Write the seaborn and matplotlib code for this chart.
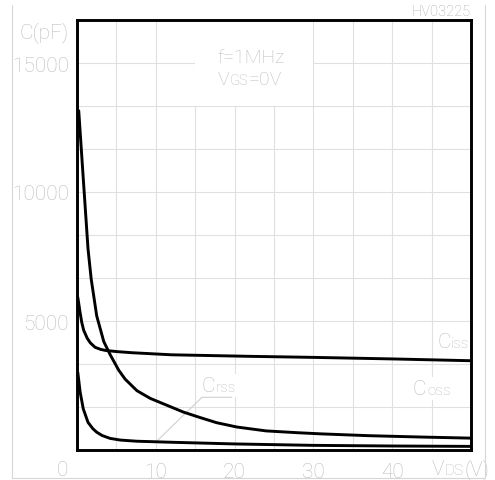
import matplotlib
matplotlib.use("Agg")
import matplotlib.pyplot as plt
import numpy as np
import pandas as pd
import seaborn as sns
from matplotlib.lines import Line2D
from matplotlib.patches import Rectangle
from matplotlib.offsetbox import TextArea, HPacker, AnnotationBbox

# Typical capacitance vs. drain-source voltage (f = 1 MHz, VGS = 0 V)
vds_iss = [0.1, 0.38, 0.6, 0.85, 1.3, 1.7, 2.3, 3.0, 3.6, 5.0, 7.0, 12.0, 22.0, 30.0, 40.0, 50.0]
c_iss = [5920, 5350, 4950, 4640, 4330, 4150, 3980, 3900, 3860, 3815, 3770, 3690, 3630, 3590, 3530, 3460]

vds_oss = [0.22, 0.8, 1.4, 1.8, 2.5, 3.4, 4.2, 5.3, 6.1, 7.6, 9.3, 11.2,
           13.5, 15.6, 17.7, 20.3, 24.0, 28.0, 31.0, 37.0, 44.0, 50.0]
c_oss = [13150, 10500, 7790, 6630, 5200, 4200, 3700, 3090, 2750, 2300, 2000, 1760,
         1470, 1260, 1060, 890, 740, 670, 625, 555, 500, 460]

vds_rss = [0.1, 0.4, 0.8, 1.4, 2.0, 2.5, 3.2, 4.2, 5.5, 7.6, 12.0, 20.0, 30.0, 40.0, 50.0]
c_rss = [3010, 2240, 1590, 1070, 830, 690, 560, 450, 385, 340, 300, 235, 180, 155, 140]

x_ticks = [10, 20, 30, 40]
x_tick_labels = ["10", "20", "30", "40"]
y_ticks = [5000, 10000, 15000]
y_tick_labels = ["5000", "10000", "15000"]

df = pd.concat([
    pd.DataFrame({"vds": vds_iss, "c": c_iss, "series": "Ciss"}),
    pd.DataFrame({"vds": vds_oss, "c": c_oss, "series": "Coss"}),
    pd.DataFrame({"vds": vds_rss, "c": c_rss, "series": "Crss"}),
], ignore_index=True)

sns.set_theme(style="white")
plt.rcParams["font.family"] = ["Roboto", "DejaVu Sans"]
plt.rcParams["font.weight"] = "light"

TEXT = "#bdbdbd"
GRID = "#e0e0e0"
W, H = 495, 481

fig = plt.figure(figsize=(W / 100, H / 100), dpi=100)
ax = fig.add_axes([77 / W, 30 / H, 394 / W, 430 / H])

X_MAX = 50
Y_MAX = 50000 / 3

ax.set_xlim(0, X_MAX)
ax.set_ylim(0, Y_MAX)

ax.set_xticks(x_ticks)
ax.set_xticklabels(x_tick_labels)
ax.set_xticks(np.arange(0, X_MAX + 1, 5), minor=True)
ax.set_yticks(y_ticks)
ax.set_yticklabels(y_tick_labels)
ax.set_yticks([i * Y_MAX / 10 for i in range(11)], minor=True)
ax.grid(which="both", color=GRID, linewidth=0.8)
ax.set_axisbelow(True)
ax.tick_params(which="both", length=0)
ax.tick_params(axis="x", pad=9, labelsize=15, labelcolor=TEXT)
ax.tick_params(axis="y", pad=6, labelsize=15, labelcolor=TEXT)

# blank panel behind the test-condition note
ax.add_patch(Rectangle((15, Y_MAX * 0.8), 15, Y_MAX * 0.2, facecolor="white",
                       edgecolor="none", zorder=1))

sns.lineplot(data=df, x="vds", y="c", units="series", estimator=None, sort=False,
             color="black", linewidth=2.1, ax=ax, legend=False, zorder=3)
ax.set_xlabel("")
ax.set_ylabel("")

for sp in ax.spines.values():
    sp.set_visible(True)
    sp.set_color("black")
    sp.set_linewidth(2.1)
    sp.set_zorder(4)


def mixed_label(parts, xy, bg=False):
    children = [TextArea(s, textprops=dict(fontsize=fs, color=TEXT)) for s, fs in parts]
    box = HPacker(children=children, align="baseline", pad=0, sep=0.5)
    ab = AnnotationBbox(box, xy, xycoords="data", box_alignment=(0, 0.5),
                        frameon=bg, pad=0.15, annotation_clip=False,
                        bboxprops=dict(facecolor="white", edgecolor="none"))
    ab.set_zorder(2)
    ax.add_artist(ab)


mixed_label([("f=1MHz", 14)], (17.8, 15250))
mixed_label([("V", 14), ("GS", 10.5), ("=0V", 14)], (17.8, 14380))
mixed_label([("C", 15), ("iss", 11)], (45.7, 4200), bg=True)
mixed_label([("C", 15), ("oss", 11)], (42.6, 2380), bg=True)
mixed_label([("C", 15), ("rss", 11)], (15.86, 2500), bg=True)
mixed_label([("V", 15), ("DS", 11), ("(V)", 15)], (45.0, -720))

# leader from the Crss tag to its curve
ax.plot([19.7, 15.86, 10.15], [2043, 2043, 349], color="#d0d0d0", linewidth=0.8,
        zorder=2, solid_capstyle="butt")

ax.text(-1.8, -740, "0", ha="center", va="center", fontsize=15, color=TEXT,
        clip_on=False)
fig.text(69 / W, 1 - 33 / H, "C(pF)", ha="right", va="center", fontsize=15,
         color=TEXT)
fig.text(471 / W, 1 - 12.5 / H, "HV03225", ha="right", va="center", fontsize=10.5,
         color="#ababab")

# light outer border (left, bottom, right)
for xs, ys in [((12, 12), (6, 479)), ((12, 485), (479, 479)), ((485, 485), (6, 479))]:
    fig.add_artist(Line2D([x / W for x in xs], [1 - y / H for y in ys],
                          color="#d6d6d6", linewidth=0.8))

fig.savefig("out.png", dpi=100)
